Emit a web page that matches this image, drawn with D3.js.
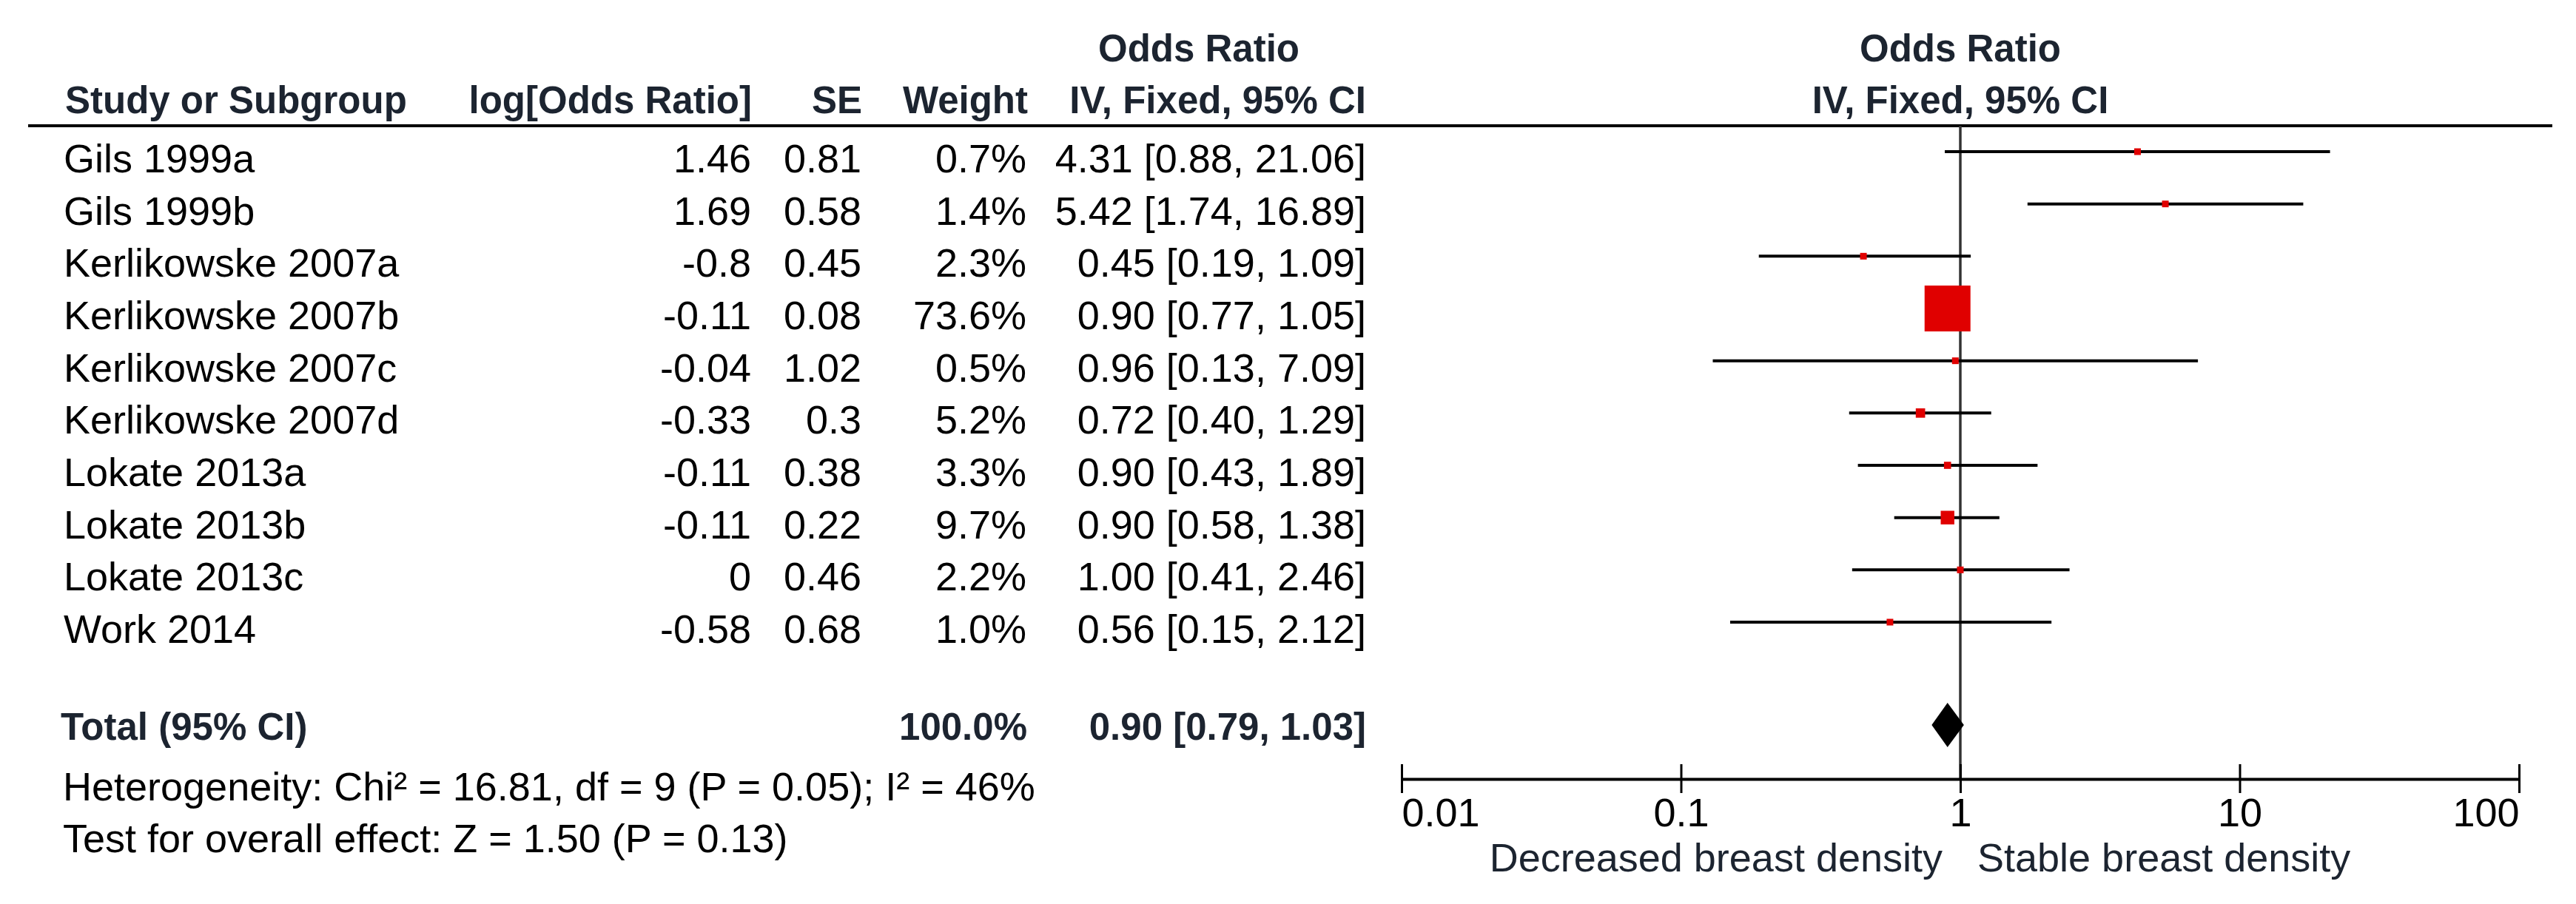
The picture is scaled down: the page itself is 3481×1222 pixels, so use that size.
<!DOCTYPE html>
<html>
<head>
<meta charset="utf-8">
<script src="https://cdn.jsdelivr.net/npm/d3@7"></script>
<style>
  body { margin: 0; background: #fff; }
  text { font-family: "Liberation Sans", Arial, sans-serif; }
</style>
</head>
<body>
<svg id="chart"></svg>
<script>
const W = 3481, H = 1222;

// data
const studies = ["Gils 1999a", "Gils 1999b", "Kerlikowske 2007a", "Kerlikowske 2007b",
  "Kerlikowske 2007c", "Kerlikowske 2007d", "Lokate 2013a", "Lokate 2013b", "Lokate 2013c", "Work 2014"];
const logOR = [1.46, 1.69, -0.8, -0.11, -0.04, -0.33, -0.11, -0.11, 0, -0.58];
const se = [0.81, 0.58, 0.45, 0.08, 1.02, 0.3, 0.38, 0.22, 0.46, 0.68];
const weight = [0.7, 1.4, 2.3, 73.6, 0.5, 5.2, 3.3, 9.7, 2.2, 1.0];
const oddsRatio = [4.31, 5.42, 0.45, 0.90, 0.96, 0.72, 0.90, 0.90, 1.00, 0.56];
const ciLow = [0.88, 1.74, 0.19, 0.77, 0.13, 0.40, 0.43, 0.58, 0.41, 0.15];
const ciHigh = [21.06, 16.89, 1.09, 1.05, 7.09, 1.29, 1.89, 1.38, 2.46, 2.12];
const total = [0.90, 0.79, 1.03];   // OR, low, high
const totalWeight = 100.0;
const tickVals = [0.01, 0.1, 1, 10, 100];
const tickLabels = ["0.01", "0.1", "1", "10", "100"];
const heterogeneity = "Heterogeneity: Chi² = 16.81, df = 9 (P = 0.05); I² = 46%";
const overall = "Test for overall effect: Z = 1.50 (P = 0.13)";
const dirLeft = "Decreased breast density";
const dirRight = "Stable breast density";

const col = {
  ink: "#000", head: "#1c2430", red: "#e00000", ref: "#333"
};
const fs = 54, fsb = 51;

const svg = d3.select("#chart").attr("width", W).attr("height", H);

const x = d3.scaleLog().domain([0.01, 100]).range([1894, 3404]);
const y = d3.scaleLinear().domain([0, studies.length - 1]).range([205, 841]);
const size = d3.scalePow().exponent(0.6).domain([0, 73.6]).range([0, 62]);
const f2 = d3.format(".2f"), f1 = d3.format(".1f");
const ciText = (o, l, h) => `${f2(o)} [${f2(l)}, ${f2(h)}]`;

function txt(s, tx, ty, opt = {}) {
  return svg.append("text").text(s)
    .attr("x", tx).attr("y", ty)
    .attr("text-anchor", opt.anchor || "start")
    .attr("font-size", opt.bold ? fsb : fs)
    .attr("font-weight", opt.bold ? "bold" : "normal")
    .attr("fill", opt.bold ? col.head : col.ink);
}

// column headers
txt("Odds Ratio", 1620, 83, { bold: true, anchor: "middle" });
txt("Odds Ratio", x(1), 83, { bold: true, anchor: "middle" });
txt("Study or Subgroup", 88, 153, { bold: true });
txt("log[Odds Ratio]", 1016, 153, { bold: true, anchor: "end" });
txt("SE", 1165, 153, { bold: true, anchor: "end" });
txt("Weight", 1389, 153, { bold: true, anchor: "end" });
txt("IV, Fixed, 95% CI", 1846, 153, { bold: true, anchor: "end" });
txt("IV, Fixed, 95% CI", x(1), 153, { bold: true, anchor: "middle" });

svg.append("line").attr("x1", 38).attr("x2", 3449).attr("y1", 170).attr("y2", 170)
  .attr("stroke", "#000").attr("stroke-width", 4);

// table rows
studies.forEach((s, i) => {
  const by = y(i) + 28;
  txt(s, 86, by);
  txt(String(logOR[i]), 1015, by, { anchor: "end" });
  txt(String(se[i]), 1164, by, { anchor: "end" });
  txt(f1(weight[i]) + "%", 1387, by, { anchor: "end" });
  txt(ciText(oddsRatio[i], ciLow[i], ciHigh[i]), 1846, by, { anchor: "end" });
});

// total row + footnotes
txt("Total (95% CI)", 82, 1000, { bold: true });
txt(f1(totalWeight) + "%", 1388, 1000, { bold: true, anchor: "end" });
txt(ciText(...total), 1846, 1000, { bold: true, anchor: "end" });
txt(heterogeneity, 85, 1082);
txt(overall, 85, 1152);

// line of no effect
svg.append("line").attr("x1", x(1)).attr("x2", x(1)).attr("y1", 170).attr("y2", 1053)
  .attr("stroke", col.ref).attr("stroke-width", 3.5);

// confidence intervals
const plot = svg.append("g");
plot.selectAll("line.ci").data(studies).join("line").attr("class", "ci")
  .attr("x1", (d, i) => x(ciLow[i])).attr("x2", (d, i) => x(ciHigh[i]))
  .attr("y1", (d, i) => y(i)).attr("y2", (d, i) => y(i))
  .attr("stroke", "#000").attr("stroke-width", 4);

plot.selectAll("rect.box").data(studies).join("rect").attr("class", "box")
  .each(function (d, i) {
    const s = Math.max(9, size(weight[i]));
    d3.select(this).attr("x", x(oddsRatio[i]) - s / 2).attr("y", y(i) - s / 2)
      .attr("width", s).attr("height", s);
  })
  .attr("fill", col.red);

// pooled diamond
const dy = 980;
plot.append("path")
  .attr("d", d3.line()([[x(total[1]), dy], [x(total[0]), dy - 30], [x(total[2]), dy], [x(total[0]), dy + 30]]) + "Z")
  .attr("fill", "#000");

// axis
const axis = d3.axisBottom(x).tickValues(tickVals).tickFormat((d, i) => tickLabels[i])
  .tickSizeOuter(0).tickSizeInner(19);
const ax = svg.append("g").attr("transform", "translate(0,1053)").call(axis);
ax.select(".domain").attr("stroke", "#000").attr("stroke-width", 4);
ax.selectAll(".tick line").attr("y1", -20).attr("y2", 19).attr("stroke", "#000").attr("stroke-width", 3);
ax.selectAll(".tick text")
  .attr("y", 64).attr("dy", null)
  .attr("font-size", fs).attr("font-family", "Liberation Sans, Arial, sans-serif").attr("fill", "#000")
  .attr("text-anchor", (d, i) => i === 0 ? "start" : i === tickVals.length - 1 ? "end" : "middle");

txt(dirLeft, x(1) - 24, 1178, { anchor: "end" }).attr("fill", col.head);
txt(dirRight, x(1) + 23, 1178).attr("fill", col.head);
</script>
</body>
</html>
